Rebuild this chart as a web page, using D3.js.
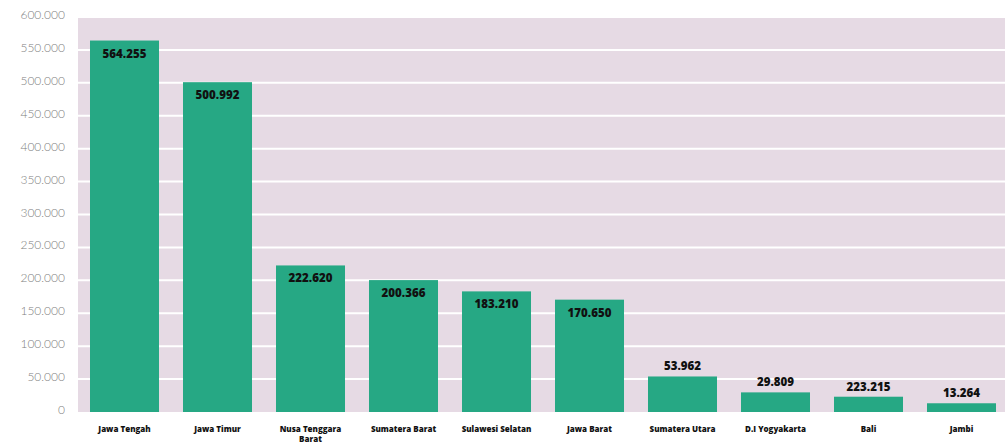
<!DOCTYPE html>
<html>
<head>
<meta charset="utf-8">
<script src="https://cdn.jsdelivr.net/npm/d3@7"></script>
<style>
  html, body { margin: 0; padding: 0; background: #fff; overflow: hidden; }
  svg { display: block; }
</style>
</head>
<body>
<div id="chart"></div>
<script>
const provinces = ['Jawa Tengah', 'Jawa Timur', 'Nusa Tenggara Barat', 'Sumatera Barat', 'Sulawesi Selatan',
                   'Jawa Barat', 'Sumatera Utara', 'D.I Yogyakarta', 'Bali', 'Jambi'];
const values = [564255, 500992, 222620, 200366, 183210, 170650, 53962, 29809, 23215, 13264];
// printed labels as they appear (Bali label differs from its bar)
const valueLabels = ['564.255', '500.992', '222.620', '200.366', '183.210', '170.650', '53.962', '29.809', '223.215', '13.264'];
const yTicks = [0, 50000, 100000, 150000, 200000, 250000, 300000, 350000, 400000, 450000, 500000, 550000, 600000];

const width = 1005;
const height = 443;

const svg = d3.select('#chart')
              .append('svg')
              .attr('width', width)
              .attr('height', height);

const x = d3.scaleBand()
            .domain(provinces)
            .range([78, 1008])
            .paddingInner(0.258)
            .paddingOuter(0.129);

const y = d3.scaleLinear()
            .domain([0, 600000])
            .range([412, 17]);

const fmt = (v) => v === 0 ? '0' : d3.format(',')(v).replace(/,/g, '.');

// plot background
svg.append('rect')
   .attr('x', 78)
   .attr('y', y(600000))
   .attr('width', width - 78)
   .attr('height', y(0) - y(600000))
   .attr('fill', '#e6dae4');

// gridlines
svg.append('g')
   .selectAll('line')
   .data(yTicks.filter((d) => d > 0))
   .enter()
   .append('line')
   .attr('x1', 78)
   .attr('x2', width)
   .attr('y1', (d) => y(d))
   .attr('y2', (d) => y(d))
   .attr('stroke', '#fff')
   .attr('stroke-width', 2);

// y tick labels
svg.append('g')
   .selectAll('text')
   .data(yTicks)
   .enter()
   .append('text')
   .attr('x', 65)
   .attr('y', (d) => y(d) + 2)
   .attr('text-anchor', 'end')
   .style('font-family', 'Lato, sans-serif')
   .style('font-weight', 300)
   .style('font-size', '12px')
   .style('fill', '#808080')
   .text(fmt);

const data = provinces.map((p, i) => ({ name: p, value: values[i], label: valueLabels[i] }));

// bars
svg.append('g')
   .selectAll('rect')
   .data(data)
   .enter()
   .append('rect')
   .attr('x', (d) => x(d.name))
   .attr('y', (d) => y(d.value))
   .attr('width', x.bandwidth())
   .attr('height', (d) => y(0) - y(d.value))
   .attr('fill', '#26a884');

// value labels: inside near top for tall bars, above for short ones
svg.append('g')
   .selectAll('text')
   .data(data)
   .enter()
   .append('text')
   .attr('x', (d) => x(d.name) + x.bandwidth() / 2)
   .attr('y', (d) => d.value > 100000 ? y(d.value) + 17 : y(d.value) - 6)
   .attr('text-anchor', 'middle')
   .style('font-family', '"Open Sans", sans-serif')
   .style('font-weight', 800)
   .style('font-size', '11.5px')
   .style('fill', '#111')
   .text((d) => d.label);

// x labels (wrap long names)
const xLabels = svg.append('g')
   .selectAll('text')
   .data(provinces)
   .enter()
   .append('text')
   .attr('text-anchor', 'middle')
   .style('font-family', '"Open Sans", sans-serif')
   .style('font-weight', 800)
   .style('font-size', '8px')
   .style('fill', '#111');

xLabels.selectAll('tspan')
   .data((d) => d.length > 17 ? [d.split(' ').slice(0, -1).join(' '), d.split(' ').slice(-1)[0]] : [d])
   .enter()
   .append('tspan')
   .attr('x', function () { const p = d3.select(this.parentNode).datum(); return x(p) + x.bandwidth() / 2; })
   .attr('y', (d, i) => 432 + i * 9.5)
   .text((d) => d);
</script>
</body>
</html>
